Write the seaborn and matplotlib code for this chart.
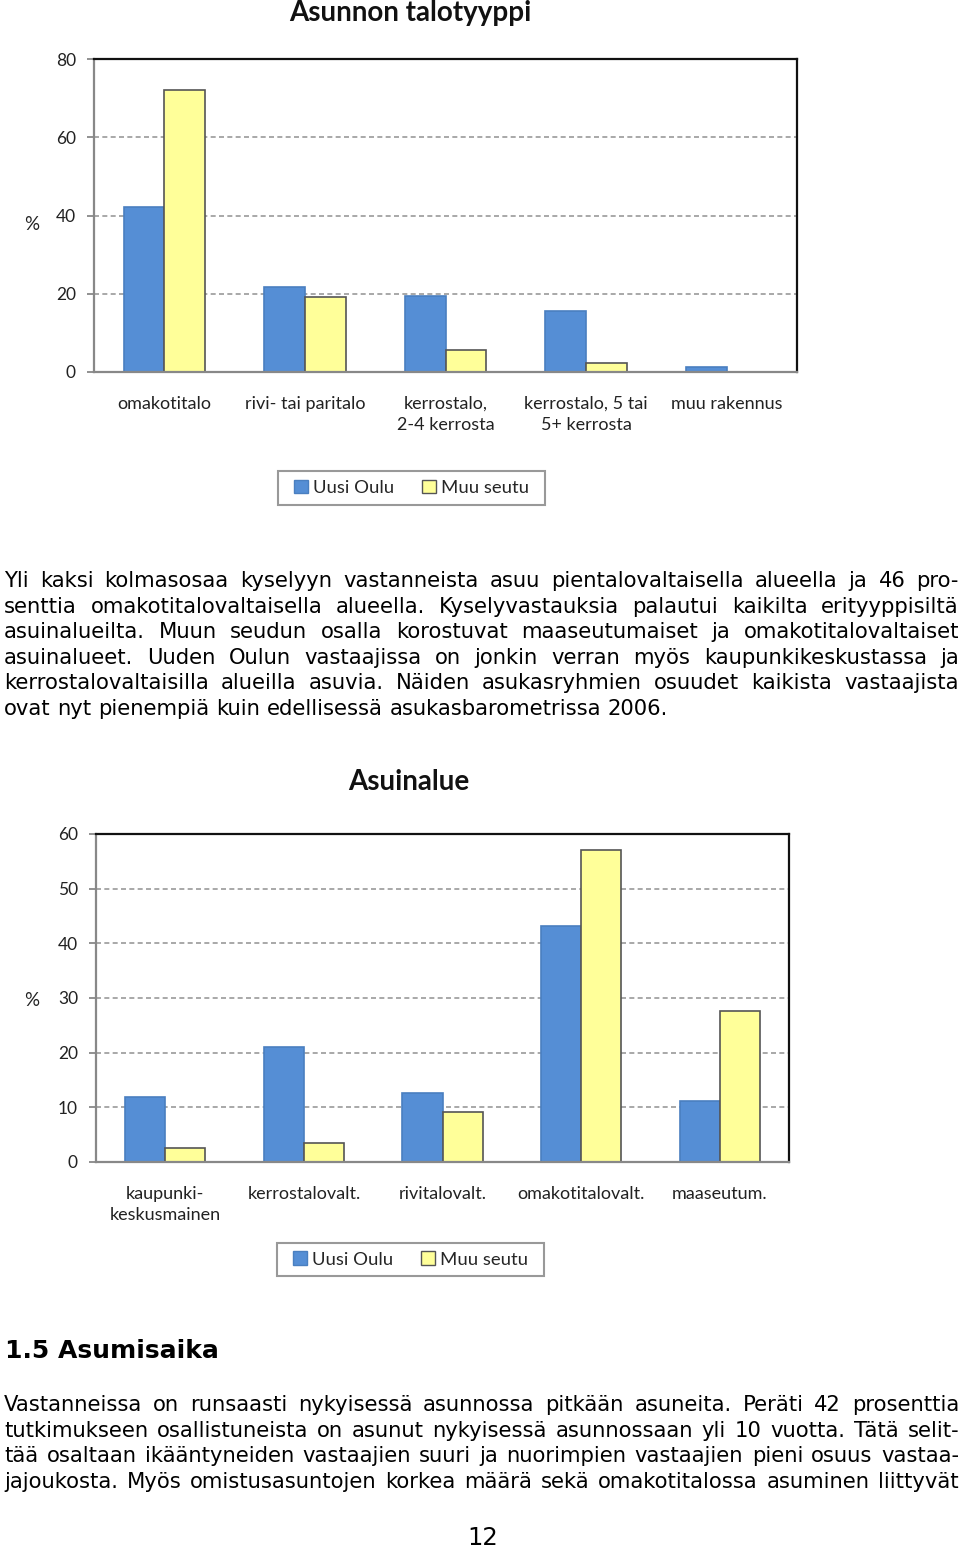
import matplotlib
matplotlib.use("Agg")
import matplotlib.pyplot as plt
import pandas as pd
import seaborn as sns
from matplotlib.patches import Patch, Rectangle

W, H = 960, 1551

series_names = ["Uusi Oulu", "Muu seutu"]
house_types = ["omakotitalo", "rivi- tai paritalo", "kerrostalo,\n2-4 kerrosta",
               "kerrostalo, 5 tai\n5+ kerrosta", "muu rakennus"]
uusi_type = [42.2, 21.8, 19.4, 15.7, 1.3]
muu_type = [72.2, 19.2, 5.7, 2.4, 0.0]
type_ticks = [0, 20, 40, 60, 80]

areas = ["kaupunki-\nkeskusmainen", "kerrostalovalt.", "rivitalovalt.",
         "omakotitalovalt.", "maaseutum."]
uusi_area = [11.8, 21.0, 12.7, 43.2, 11.2]
muu_area = [2.6, 3.5, 9.2, 57.0, 27.6]
area_ticks = [0, 10, 20, 30, 40, 50, 60]

para1 = [
    "Yli kaksi kolmasosaa kyselyyn vastanneista asuu pientalovaltaisella alueella ja 46 pro-",
    "senttia omakotitalovaltaisella alueella. Kyselyvastauksia palautui kaikilta erityyppisiltä",
    "asuinalueilta. Muun seudun osalla korostuvat maaseutumaiset ja omakotitalovaltaiset",
    "asuinalueet. Uuden Oulun vastaajissa on jonkin verran myös kaupunkikeskustassa ja",
    "kerrostalovaltaisilla alueilla asuvia. Näiden asukasryhmien osuudet kaikista vastaajista",
    "ovat nyt pienempiä kuin edellisessä asukasbarometrissa 2006.",
]
para2 = [
    "Vastanneissa on runsaasti nykyisessä asunnossa pitkään asuneita. Peräti 42 prosenttia",
    "tutkimukseen osallistuneista on asunut nykyisessä asunnossaan yli 10 vuotta. Tätä selit-",
    "tää osaltaan ikääntyneiden vastaajien suuri ja nuorimpien vastaajien pieni osuus vastaa-",
    "jajoukosta. Myös omistusasuntojen korkea määrä sekä omakotitalossa asuminen liittyvät",
]

BLUE = "#558ED5"
BLUE_EDGE = "#4a7fc0"
YELLOW = "#FFFF99"
YELLOW_EDGE = "#555555"
CHART_FONT = "Lato"
BODY_FONT = "DejaVu Sans"

sns.set_theme(style="white")
plt.rcParams["font.family"] = [CHART_FONT, "DejaVu Sans"]


def px(x, y):
    return x / W, 1 - y / H


def bar_chart(fig, box, cats, uusi, muu, ticks, title, title_x, title_y, pct_y, legend_box):
    left, top, right, bottom = box
    ax = fig.add_axes([left / W, 1 - bottom / H, (right - left) / W, (bottom - top) / H])
    df = pd.DataFrame({
        "cat": cats * 2,
        "value": uusi + muu,
        "series": [series_names[0]] * len(cats) + [series_names[1]] * len(cats),
    })
    sns.barplot(data=df, x="cat", y="value", hue="series", order=cats,
                hue_order=series_names, palette=[BLUE, YELLOW], width=0.58,
                saturation=1, legend=False, ax=ax)
    for patch in ax.patches:
        red = patch.get_facecolor()[0]
        patch.set_edgecolor(BLUE_EDGE if red < 0.7 else YELLOW_EDGE)
        patch.set_linewidth(1.2)

    ax.set_xlim(-0.5, len(cats) - 0.5)
    ax.set_ylim(ticks[0], ticks[-1])
    ax.set_yticks(ticks)
    ax.set_yticklabels([str(t) for t in ticks], fontsize=12.5, color="#222222")
    ax.set_xlabel("")
    ax.set_ylabel("")
    ax.set_xticks(range(len(cats)))
    ax.set_xticklabels(cats, fontsize=13, color="#222222", linespacing=1.4)
    ax.set_xticks([i - 0.5 for i in range(len(cats) + 1)], minor=True)
    ax.tick_params(axis="x", which="major", length=0, pad=17)
    ax.tick_params(axis="x", which="minor", length=6, width=1.3, color="#888888", direction="out")
    ax.tick_params(axis="y", length=5, width=1.3, color="#888888", direction="out", pad=8, left=True)

    ax.yaxis.grid(True, linestyle=(0, (3, 2)), color="#999999", linewidth=1.2)
    ax.set_axisbelow(True)
    for side in ("left", "bottom"):
        ax.spines[side].set_color("#888888")
        ax.spines[side].set_linewidth(1.6)
    for side in ("top", "right"):
        ax.spines[side].set_color("#111111")
        ax.spines[side].set_linewidth(1.6)

    fig.text(*px(title_x, title_y), title, fontsize=20, fontweight="bold",
             ha="center", va="center", color="#111111")
    fig.text(*px(32, pct_y), "%", fontsize=13.5, ha="center", va="center", color="#222222")

    lx0, ly0, lx1, ly1 = legend_box
    fig.patches.append(Rectangle(px(lx0, ly1), (lx1 - lx0) / W, (ly1 - ly0) / H,
                                 transform=fig.transFigure, facecolor="white",
                                 edgecolor="#999999", linewidth=1.5, zorder=1))
    handles = [Patch(facecolor=BLUE, edgecolor=BLUE_EDGE, label=series_names[0]),
               Patch(facecolor=YELLOW, edgecolor=YELLOW_EDGE, label=series_names[1])]
    fig.legend(handles=handles, loc="center", bbox_to_anchor=px((lx0 + lx1) / 2, (ly0 + ly1) / 2),
               ncol=2, fontsize=13.3, frameon=False, handlelength=0.75, handleheight=0.75,
               handletextpad=0.3, columnspacing=1.5, borderpad=0, borderaxespad=0)
    return ax


def justify(fig, renderer, line, y, fontsize, x0=4, x1=959, last=False, **kw):
    words = line.split()
    texts = [fig.text(*px(x0, y), w, fontsize=fontsize, family=BODY_FONT,
                      va="baseline", ha="left", color="#000000", **kw) for w in words]
    widths = [t.get_window_extent(renderer).width for t in texts]
    if last or len(words) == 1:
        probe = fig.text(0, 0, "a a", fontsize=fontsize, family=BODY_FONT)
        probe2 = fig.text(0, 0, "aa", fontsize=fontsize, family=BODY_FONT)
        gap = probe.get_window_extent(renderer).width - probe2.get_window_extent(renderer).width
        probe.remove()
        probe2.remove()
    else:
        gap = (x1 - x0 - sum(widths)) / (len(words) - 1)
    x = x0
    for t, w in zip(texts, widths):
        t.set_position(px(x, y))
        x += w + gap


fig = plt.figure(figsize=(W / 100, H / 100), dpi=100)
fig.patch.set_facecolor("white")
renderer = fig.canvas.get_renderer()

bar_chart(fig, (94, 59, 797, 372), house_types, uusi_type, muu_type, type_ticks,
          "Asunnon talotyyppi", 410, 13, 224, (278, 471, 545, 505))
bar_chart(fig, (96, 834, 789, 1162), areas, uusi_area, muu_area, area_ticks,
          "Asuinalue", 409, 782, 1000, (277, 1243, 544, 1276))

body_size = 15.2
for i, line in enumerate(para1):
    justify(fig, renderer, line, 587 + i * 25.6, body_size, last=(i == len(para1) - 1))
for i, line in enumerate(para2):
    justify(fig, renderer, line, 1411 + i * 25.6, body_size)

fig.text(*px(5, 1358), "1.5 Asumisaika", fontsize=18, fontweight="bold",
         family=BODY_FONT, ha="left", va="baseline", color="#000000")
fig.text(*px(483, 1545), "12", fontsize=17.5, family=BODY_FONT,
         ha="center", va="baseline", color="#000000")

fig.savefig("out.png", dpi=100, facecolor="white")
plt.close(fig)
